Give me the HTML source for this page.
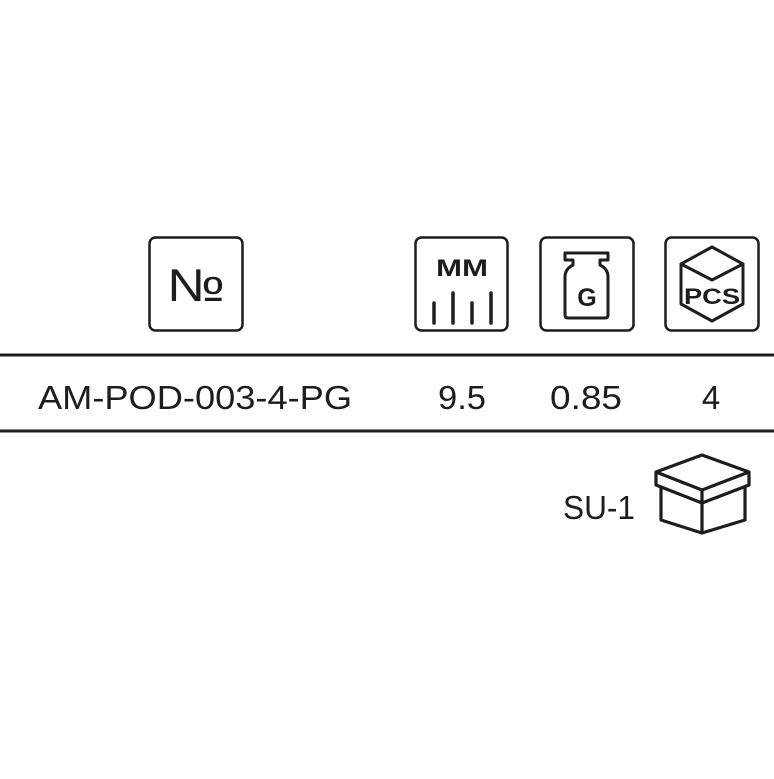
<!DOCTYPE html>
<html><head><style>
body{margin:0;width:774px;height:774px;background:#fff;overflow:hidden;font-family:"Liberation Sans",sans-serif;color:#1d1d1b}
</style></head><body>
<svg width="774" height="774" viewBox="0 0 774 774" xmlns="http://www.w3.org/2000/svg">
<g fill="none" stroke="#1d1d1b" stroke-width="2.5" stroke-linejoin="round" stroke-linecap="round">
<rect x="149.5" y="237.5" width="93" height="93" rx="6"/>
<rect x="415.5" y="237.5" width="92" height="93" rx="6"/>
<rect x="540.5" y="237.5" width="93" height="93" rx="6"/>
<rect x="665.5" y="237.5" width="93" height="93" rx="6"/>
<g stroke-width="3.5"><line x1="434" y1="303" x2="434" y2="323"/><line x1="453" y1="293" x2="453" y2="323"/><line x1="472" y1="303" x2="472" y2="323"/><line x1="491" y1="293" x2="491" y2="323"/></g>
<path d="M565 253 h43 v7 h-8 v5 q8 4 8 12 v38 q0 3 -3 3 h-37 q-3 0 -3 -3 v-38 q0 -8 8 -12 v-5 h-8 z" stroke-width="3"/>
<path d="M712 247 L743 264 L743 304 L712 321 L681 304 L681 264 Z M681 264 L712 280 L743 264" stroke-width="3"/>
<line x1="0" y1="355" x2="774" y2="355" stroke-linecap="butt" stroke-width="3"/>
<line x1="0" y1="431" x2="774" y2="431" stroke-linecap="butt" stroke-width="3"/>
<g stroke-width="3.2">
<path d="M702 455 L749 472 L749 485 L702 503 L656 485 L656 472 Z M656 472 L702 490 L749 472 M702 490 V503"/>
<path d="M661 487 V520 L702 533 L745 520 V487 M702 503 V533"/>
</g>
</g>
<g fill="#1d1d1b">
<text x="167" y="301" font-size="46" textLength="58" lengthAdjust="spacingAndGlyphs">№</text>
<text x="436" y="276" font-size="24" font-weight="bold" textLength="52" lengthAdjust="spacingAndGlyphs">MM</text>
<text x="587" y="306" font-size="25" font-weight="bold" text-anchor="middle">G</text>
<text x="684" y="304" font-size="22" font-weight="bold" textLength="56" lengthAdjust="spacingAndGlyphs">PCS</text>
<text x="38" y="409" font-size="33" textLength="314" lengthAdjust="spacingAndGlyphs">AM-POD-003-4-PG</text>
<text x="438" y="409" font-size="33" textLength="48" lengthAdjust="spacingAndGlyphs">9.5</text>
<text x="550" y="409" font-size="33" textLength="72" lengthAdjust="spacingAndGlyphs">0.85</text>
<text x="711" y="409" font-size="33" text-anchor="middle">4</text>
<text x="563" y="519" font-size="33" textLength="72" lengthAdjust="spacingAndGlyphs">SU-1</text>
</g>
</svg>
</body></html>
